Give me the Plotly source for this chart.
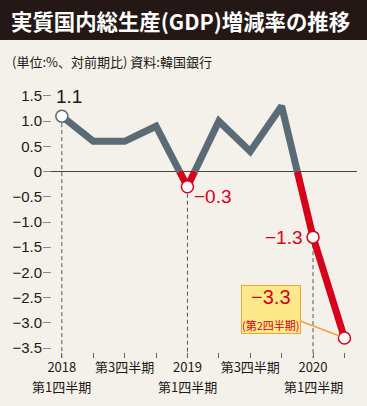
import plotly.graph_objects as go

# ---- data ----
quarters = ["2018Q1", "2018Q2", "2018Q3", "2018Q4", "2019Q1",
            "2019Q2", "2019Q3", "2019Q4", "2020Q1", "2020Q2"]
growth = [1.1, 0.6, 0.6, 0.9, -0.3, 1.0, 0.4, 1.3, -1.3, -3.3]
x_tick_labels = ["2018", "", "第3四半期", "", "2019", "", "第3四半期", "", "2020", ""]
x_tick_sublabels = ["第1四半期", "", "", "", "第1四半期", "", "", "", "第1四半期", ""]
y_tick_vals = [1.5, 1.0, 0.5, 0, -0.5, -1.0, -1.5, -2.0, -2.5, -3.0, -3.5]
y_tick_labels = ["1.5", "1.0", "0.5", "0", "−0.5", "−1.0", "−1.5", "−2.0", "−2.5", "−3.0", "−3.5"]
marked_idx = [0, 4, 8, 9]
dashed_idx = [0, 4, 8]
title_text = "実質国内総生産(GDP)増減率の推移"
subtitle_text = "(単位:%、対前期比) 資料:韓国銀行"
callout_note = "(第2四半期)"

# ---- style ----
W, H = 367, 406
ML, MR, MT, MB = 43, 10, 85, 48
BG = "#f3f1ea"
GRAY = "#5b6b76"
RED = "#d7001a"
DARK = "#231815"
NUM_FONT = "Liberation Sans Narrow, Arial Narrow, Liberation Sans, Arial"
CJK_FONT = "Noto Sans CJK JP"
Y_RANGE = [-3.698, 1.718]
X_RANGE = [-0.6, 9.4]

pw = W - ML - MR
ph = H - MT - MB


def px_x(p):
    return (p - ML) / pw


def px_y(p):
    return (H - MB - p) / ph


xs = list(range(len(growth)))

# split line into runs by sign (gray for >=0, red for <0)
runs = []


def color_of(v):
    return GRAY if v >= 0 else RED


cur_color = color_of(growth[0])
cur_x, cur_y = [xs[0]], [growth[0]]
for i in range(len(growth) - 1):
    x0, y0, x1, y1 = xs[i], growth[i], xs[i + 1], growth[i + 1]
    if (y0 >= 0) != (y1 >= 0):
        xc = x0 + (y0 / (y0 - y1)) * (x1 - x0)
        cur_x.append(xc)
        cur_y.append(0)
        runs.append((cur_color, cur_x, cur_y))
        cur_color = color_of(y1)
        cur_x, cur_y = [xc], [0]
    cur_x.append(x1)
    cur_y.append(y1)
runs.append((cur_color, cur_x, cur_y))

fig = go.Figure()

for i in dashed_idx:
    fig.add_trace(go.Scatter(
        x=[xs[i], xs[i]], y=[growth[i], Y_RANGE[0]], mode="lines",
        line=dict(color="#555555", width=1, dash="4px,3px"),
        hoverinfo="skip", showlegend=False))

for c, rx, ry in runs:
    fig.add_trace(go.Scatter(
        x=rx, y=ry, mode="lines", line=dict(color=c, width=7),
        hoverinfo="skip", showlegend=False))

fig.add_trace(go.Scatter(
    x=[xs[i] for i in marked_idx], y=[growth[i] for i in marked_idx],
    mode="markers",
    marker=dict(size=12, color="white",
                line=dict(width=1.5, color=[color_of(growth[i]) for i in marked_idx])),
    hoverinfo="skip", showlegend=False))


def fmt(v):
    return ("−" if v < 0 else "") + f"{abs(v):.1f}"


annotations = [
    dict(x=xs[0], y=growth[0], text=fmt(growth[0]), showarrow=False,
         xanchor="center", yanchor="middle", xshift=7, yshift=20,
         font=dict(family=NUM_FONT, size=19, color=DARK)),
    dict(x=xs[4], y=growth[4], text=fmt(growth[4]), showarrow=False,
         xanchor="left", yanchor="middle", xshift=5, yshift=-10,
         font=dict(family=NUM_FONT, size=19, color=RED)),
    dict(x=xs[8], y=growth[8], text=fmt(growth[8]), showarrow=False,
         xanchor="right", yanchor="middle", xshift=-8, yshift=0,
         font=dict(family=NUM_FONT, size=19, color=RED)),
    dict(x=xs[9], y=growth[9],
         text=fmt(growth[9]) + "<br><span style='font-size:11px;font-family:Noto Sans CJK JP'>"
              + callout_note + "</span>",
         showarrow=True, ax=-73, ay=-28, arrowhead=0, arrowwidth=1.5,
         arrowcolor="#f0a53a", standoff=6,
         bgcolor="#fde98a", bordercolor="#f0a53a", borderwidth=1, borderpad=0,
         font=dict(family=NUM_FONT, size=20, color=RED)),
    dict(xref="paper", yref="paper", x=px_x(9), y=px_y(21), xanchor="left", yanchor="middle",
         text="<b>" + title_text + "</b>", showarrow=False,
         font=dict(family=CJK_FONT, size=21.4, color="white")),
    dict(xref="paper", yref="paper", x=px_x(10), y=px_y(61), xanchor="left", yanchor="middle",
         text=subtitle_text, showarrow=False,
         font=dict(family=CJK_FONT, size=13, color=DARK)),
]

for xi, lab in zip(xs, x_tick_sublabels):
    if lab:
        annotations.append(dict(
            x=xi, xref="x", yref="paper", y=px_y(386), text=lab, showarrow=False,
            xanchor="center", yanchor="middle",
            font=dict(family=CJK_FONT, size=13, color=DARK)))

shapes = [
    dict(type="rect", xref="paper", yref="paper",
         x0=px_x(0), x1=px_x(W), y0=px_y(40), y1=px_y(0),
         fillcolor=DARK, line=dict(width=0), layer="below"),
]

fig.update_layout(
    width=W, height=H,
    margin=dict(l=ML, r=MR, t=MT, b=MB),
    paper_bgcolor=BG, plot_bgcolor=BG,
    annotations=annotations, shapes=shapes,
    xaxis=dict(range=X_RANGE, tickvals=xs, ticktext=x_tick_labels,
               ticks="inside", ticklen=5, tickcolor="#666666", tickwidth=1,
               showgrid=False, zeroline=False, showline=False,
               tickfont=dict(family=CJK_FONT, size=13, color=DARK)),
    yaxis=dict(range=Y_RANGE, tickvals=y_tick_vals, ticktext=y_tick_labels,
               ticks="inside", ticklen=8, tickcolor="#888888", tickwidth=1,
               showgrid=False, zeroline=True, zerolinecolor="#444444", zerolinewidth=1,
               showline=False,
               tickfont=dict(family=NUM_FONT, size=15, color=DARK)),
)

fig.write_html("out.html", config={"displayModeBar": False},
               post_script="document.body.style.margin='0';document.body.style.background='%s';" % BG)
